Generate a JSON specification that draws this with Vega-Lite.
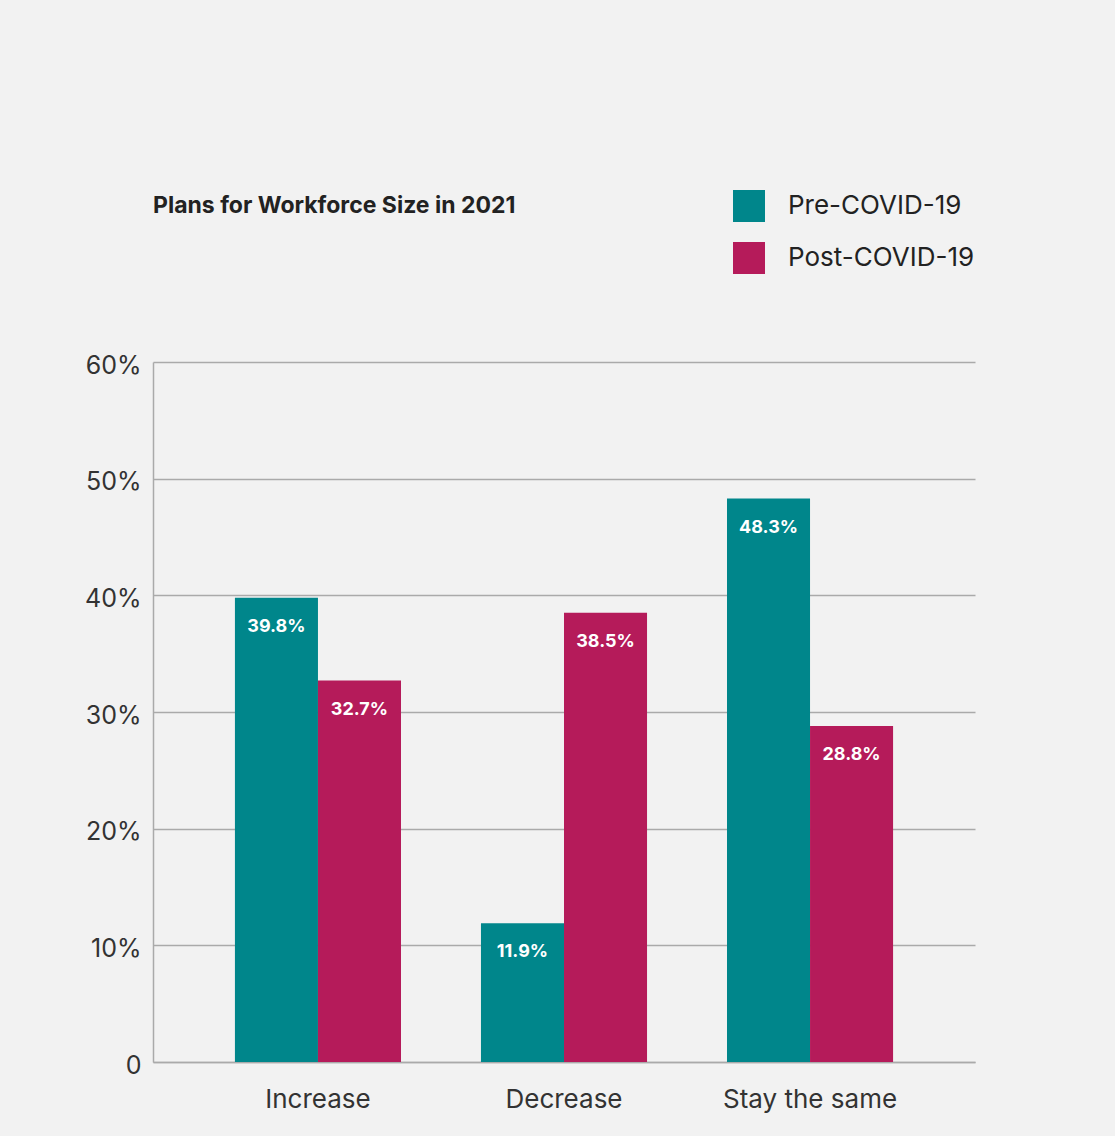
{
  "$schema": "https://vega.github.io/schema/vega-lite/v6.json",
  "autosize": "none",
  "width": 822,
  "height": 700,
  "padding": {"left": 153, "top": 362, "right": 140, "bottom": 74},
  "background": "#f2f2f2",
  "config": {"font": "Inter", "view": {"stroke": null}},
  "title": {
    "text": "Plans for Workforce Size in 2021",
    "anchor": "start",
    "frame": "group",
    "fontSize": 23,
    "fontWeight": "bold",
    "color": "#222222",
    "offset": -28,
    "font": "Inter"
  },
  "data": {
    "values": [
      {"plan": "Increase", "period": "Pre-COVID-19", "value": 39.8, "label": "39.8%"},
      {"plan": "Increase", "period": "Post-COVID-19", "value": 32.7, "label": "32.7%"},
      {"plan": "Decrease", "period": "Pre-COVID-19", "value": 11.9, "label": "11.9%"},
      {"plan": "Decrease", "period": "Post-COVID-19", "value": 38.5, "label": "38.5%"},
      {"plan": "Stay the same", "period": "Pre-COVID-19", "value": 48.3, "label": "48.3%"},
      {"plan": "Stay the same", "period": "Post-COVID-19", "value": 28.8, "label": "28.8%"}
    ]
  },
  "encoding": {
    "x": {
      "field": "plan",
      "type": "nominal",
      "sort": ["Increase", "Decrease", "Stay the same"],
      "scale": {"paddingInner": 0.325, "paddingOuter": 0.333},
      "axis": {
        "title": null,
        "labelAngle": 0,
        "labelFontSize": 26,
        "labelColor": "#333333",
        "labelPadding": 24,
        "ticks": false,
        "domainColor": "#aaaaaa",
        "domainWidth": 1.5
      }
    },
    "xOffset": {
      "field": "period",
      "type": "nominal",
      "sort": ["Pre-COVID-19", "Post-COVID-19"],
      "scale": {"paddingInner": 0, "paddingOuter": 0}
    },
    "y": {
      "field": "value",
      "type": "quantitative",
      "scale": {"domain": [0, 60], "nice": false},
      "axis": {
        "title": null,
        "values": [0, 10, 20, 30, 40, 50, 60],
        "labelExpr": "datum.value == 0 ? '0' : datum.value + '%'",
        "labelFontSize": 25,
        "labelColor": "#333333",
        "labelPadding": 12,
        "labelOffset": 3,
        "ticks": false,
        "domain": true,
        "domainColor": "#aaaaaa",
        "domainWidth": 1.5,
        "gridColor": "#aaaaaa",
        "gridWidth": 1.5
      }
    }
  },
  "layer": [
    {
      "mark": {"type": "bar"},
      "encoding": {
        "color": {
          "field": "period",
          "type": "nominal",
          "sort": ["Pre-COVID-19", "Post-COVID-19"],
          "scale": {"domain": ["Pre-COVID-19", "Post-COVID-19"], "range": ["#00868b", "#b51b5a"]},
          "legend": {
            "title": null,
            "orient": "none",
            "legendX": 580,
            "legendY": -172,
            "symbolType": "square",
            "symbolSize": 1024,
            "symbolStrokeWidth": 0,
            "labelFontSize": 26,
            "labelColor": "#222222",
            "labelOffset": 23,
            "rowPadding": 20,
            "labelLimit": 400
          }
        }
      }
    },
    {
      "mark": {"type": "text", "color": "white", "fontWeight": "bold", "fontSize": 18, "baseline": "middle", "dy": 29},
      "encoding": {
        "text": {"field": "label", "type": "nominal"}
      }
    }
  ]
}
